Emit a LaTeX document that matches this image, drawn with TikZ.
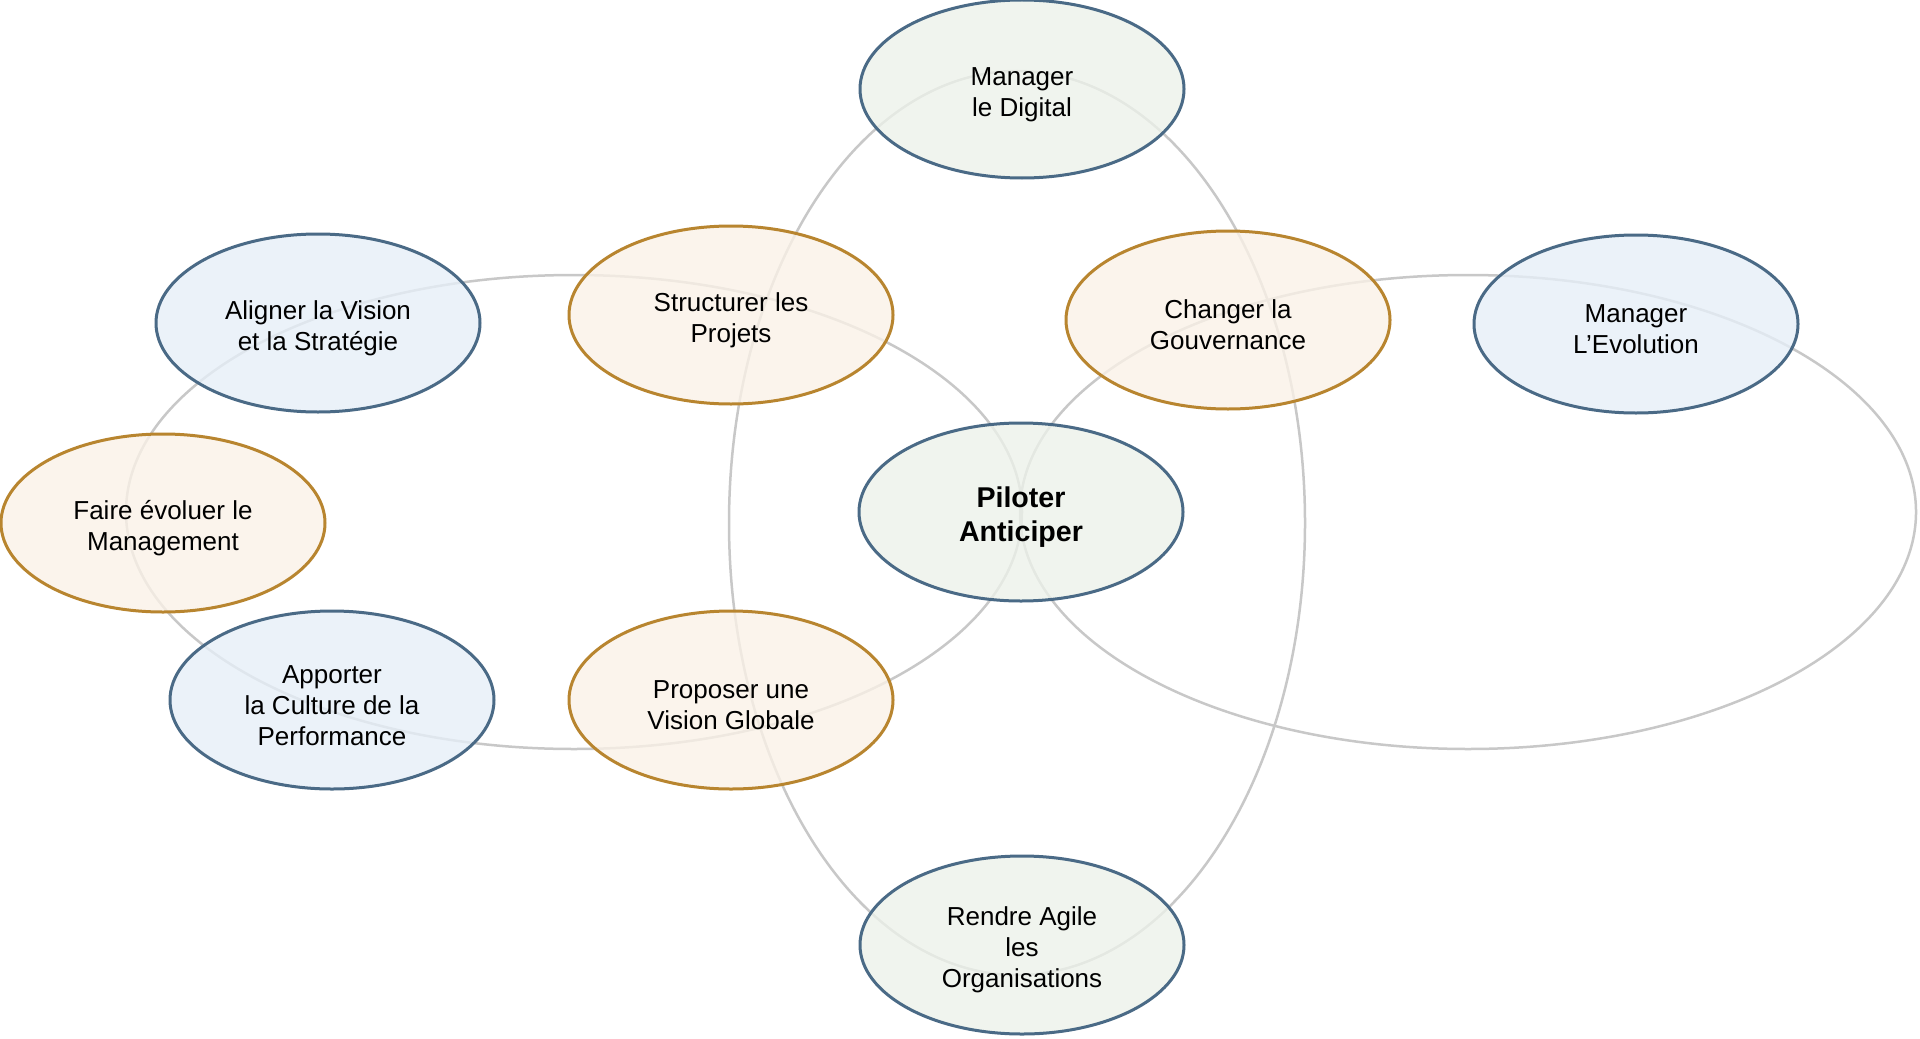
\documentclass[tikz,border=0pt]{standalone}
\usepackage{fontspec}
\setmainfont{Liberation Sans}
\usetikzlibrary{shapes.geometric}
\definecolor{blueline}{HTML}{4A6A86}
\definecolor{orangeline}{HTML}{B8852F}
\definecolor{bluefill}{HTML}{E6EFF8}
\definecolor{orangefill}{HTML}{FAF2E7}
\definecolor{greenfill}{HTML}{EDF2EA}
\definecolor{ringgray}{HTML}{C8C8C8}
\newcommand\bubstrut{\rule{0pt}{14.3pt}}
\newcommand\bigbubstrut{\rule{0pt}{15.5pt}}
\tikzset{
  bubble/.style={ellipse, draw, line width=1.5pt, minimum width=162pt, minimum height=89pt,
    inner sep=0pt, align=center, fill opacity=0.78, text opacity=1,
    font=\fontsize{13pt}{15.5pt}\selectfont},
  bluebubble/.style={bubble, draw=blueline, fill=bluefill},
  orangebubble/.style={bubble, draw=orangeline, fill=orangefill},
  greenbubble/.style={bubble, draw=blueline, fill=greenfill},
  centerbubble/.style={greenbubble, font=\fontsize{14.3pt}{17pt}\selectfont\bfseries},
  ring/.style={draw=ringgray, line width=1.25pt}
}
\begin{document}
\begin{tikzpicture}[x=0.5pt, y=-0.5pt]
\useasboundingbox[fill=white] (0,0) rectangle (1920,1038);
% rings
\coordinate (cL) at (574,512);
\coordinate (cR) at (1468,512);
\coordinate (cV) at (1017,523);
\draw[ring] (cL) ellipse [x radius=224pt, y radius=118.5pt];
\draw[ring] (cR) ellipse [x radius=224pt, y radius=118.5pt];
\draw[ring] (cV) ellipse [x radius=144pt, y radius=226pt];
% bubbles
\node[greenbubble] (digital) at (1022,89) {\bubstrut Manager\\le Digital};
\node[bluebubble] (aligner) at (318,323) {\bubstrut Aligner la Vision\\et la Stratégie};
\node[orangebubble] (structurer) at (731,315) {\bubstrut Structurer les\\Projets};
\node[orangebubble] (changer) at (1228,320) {\bubstrut Changer la\\Gouvernance};
\node[bluebubble] (evolution) at (1636,324) {\bubstrut Manager\\L’Evolution};
\node[orangebubble] (faire) at (163,523) {\bubstrut Faire évoluer le\\Management};
\node[centerbubble] (piloter) at (1021,512) {\bigbubstrut Piloter\\Anticiper};
\node[bluebubble] (apporter) at (332,700) {\bubstrut Apporter\\la Culture de la\\Performance};
\node[orangebubble] (proposer) at (731,700) {\bubstrut Proposer une\\Vision Globale};
\node[greenbubble] (rendre) at (1022,945) {\bubstrut Rendre Agile\\les\\Organisations};
\end{tikzpicture}
\end{document}
